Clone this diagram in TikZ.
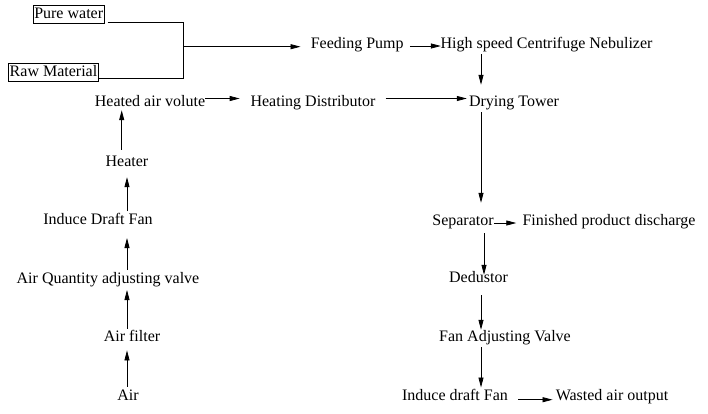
\documentclass[tikz,border=0pt]{standalone}
\usepackage{fontspec}
\setmainfont{Liberation Serif}
\usetikzlibrary{arrows.meta}
\begin{document}
\begin{tikzpicture}[x=1pt, y=-1pt,
        font=\fontsize{16}{19}\selectfont,
        every node/.style={anchor=base, inner sep=2pt, text height=11pt, text depth=3.5pt},
        srcbox/.style={draw, line width=0.8pt, inner xsep=1pt, inner ysep=1.7pt},
        pipe/.style={line width=0.8pt},
        flow/.style={line width=0.8pt, -{Triangle[length=10pt,width=5pt]}}]
            \useasboundingbox (0, 0) rectangle (708, 413);

            \coordinate (merge) at (183, 46.7);
            \coordinate (lcol) at (127, 0);
            \coordinate (vcol) at (121.7, 0);
            \coordinate (rcol) at (481, 0);
            \coordinate (scol) at (484, 0);

            \node[srcbox] (pure) at (68.7, 18.3) {Pure water};
            \node[srcbox] (raw) at (53.5, 76) {Raw Material};

            \node (pump) at (357.2, 48.5) {Feeding Pump};
            \node (nebulizer) at (546.5, 48.5) {High speed Centrifuge Nebulizer};
            \node (volute) at (150, 106.5) {Heated air volute};
            \node (distributor) at (313, 106.5) {Heating Distributor};
            \node (tower) at (514, 106.5) {Drying Tower};

            \node (heater) at (127, 166) {Heater};
            \node (fan) at (98, 224.3) {Induce Draft Fan};
            \node (valve) at (108, 283.3) {Air Quantity adjusting valve};
            \node (filter) at (132, 341.7) {Air filter};
            \node (air) at (128, 400) {Air};

            \node (separator) at (463, 225) {Separator};
            \node (finished) at (609, 225) {Finished product discharge};
            \node (dedustor) at (478.5, 282.3) {Dedustor};
            \node (fanvalve) at (505, 341.7) {Fan Adjusting Valve};
            \node (draft) at (455, 400.7) {Induce draft Fan};
            \node (wasted) at (612, 400.7) {Wasted air output};

            \draw[pipe] ([xshift=3pt, yshift=-7.5pt]pure.east) -| (merge);
            \draw[pipe] ([yshift=-6.3pt]raw.east) -| (merge);
            \draw[flow, shorten >=8pt] (merge) -- (merge -| pump.west);
            \draw[flow, shorten <=4pt, shorten >=-2.5pt] ([yshift=2.5pt]pump.base east) -- ([yshift=2.5pt]nebulizer.base west);
            \draw[flow, shorten >=8.5pt] (nebulizer.south -| rcol) -- (tower.north -| rcol);

            \draw[flow, shorten <=-2pt, shorten >=8.7pt] ([yshift=8pt]volute.base east) -- ([yshift=8pt]distributor.base west);
            \draw[flow, shorten <=8pt] ([yshift=8pt]distributor.base east) -- ([yshift=8pt]tower.base west);

            \draw[flow, shorten >=3pt] (air.north -| lcol) -- (filter.south -| lcol);
            \draw[flow, shorten >=1pt] (filter.north -| lcol) -- (valve.south -| lcol);
            \draw[flow, shorten >=8pt] (valve.north -| lcol) -- (fan.south -| lcol);
            \draw[flow, shorten >=5.5pt] (fan.north -| lcol) -- (heater.south -| lcol);
            \draw[flow, shorten <=3pt, shorten >=-2pt] (heater.north -| vcol) -- (volute.south -| vcol);

            \draw[flow, shorten >=9pt] (tower.south -| rcol) -- (separator.north -| rcol);
            \draw[flow, shorten <=-2pt, shorten >=4pt] ([yshift=2pt]separator.base east) -- ([yshift=2pt]finished.base west);
            \draw[flow, shorten <=2.5pt, shorten >=-5.7pt] (separator.south -| scol) -- (dedustor.north -| scol);
            \draw[flow, shorten <=7pt, shorten >=-1.3pt] (dedustor.south -| rcol) -- (fanvalve.north -| rcol);
            \draw[flow] (fanvalve.south -| rcol) -- (draft.north -| rcol);
            \draw[flow, shorten <=8pt, shorten >=1pt] ([yshift=1pt]draft.base east) -- ([yshift=1pt]wasted.base west);
        \end{tikzpicture}
\end{document}
